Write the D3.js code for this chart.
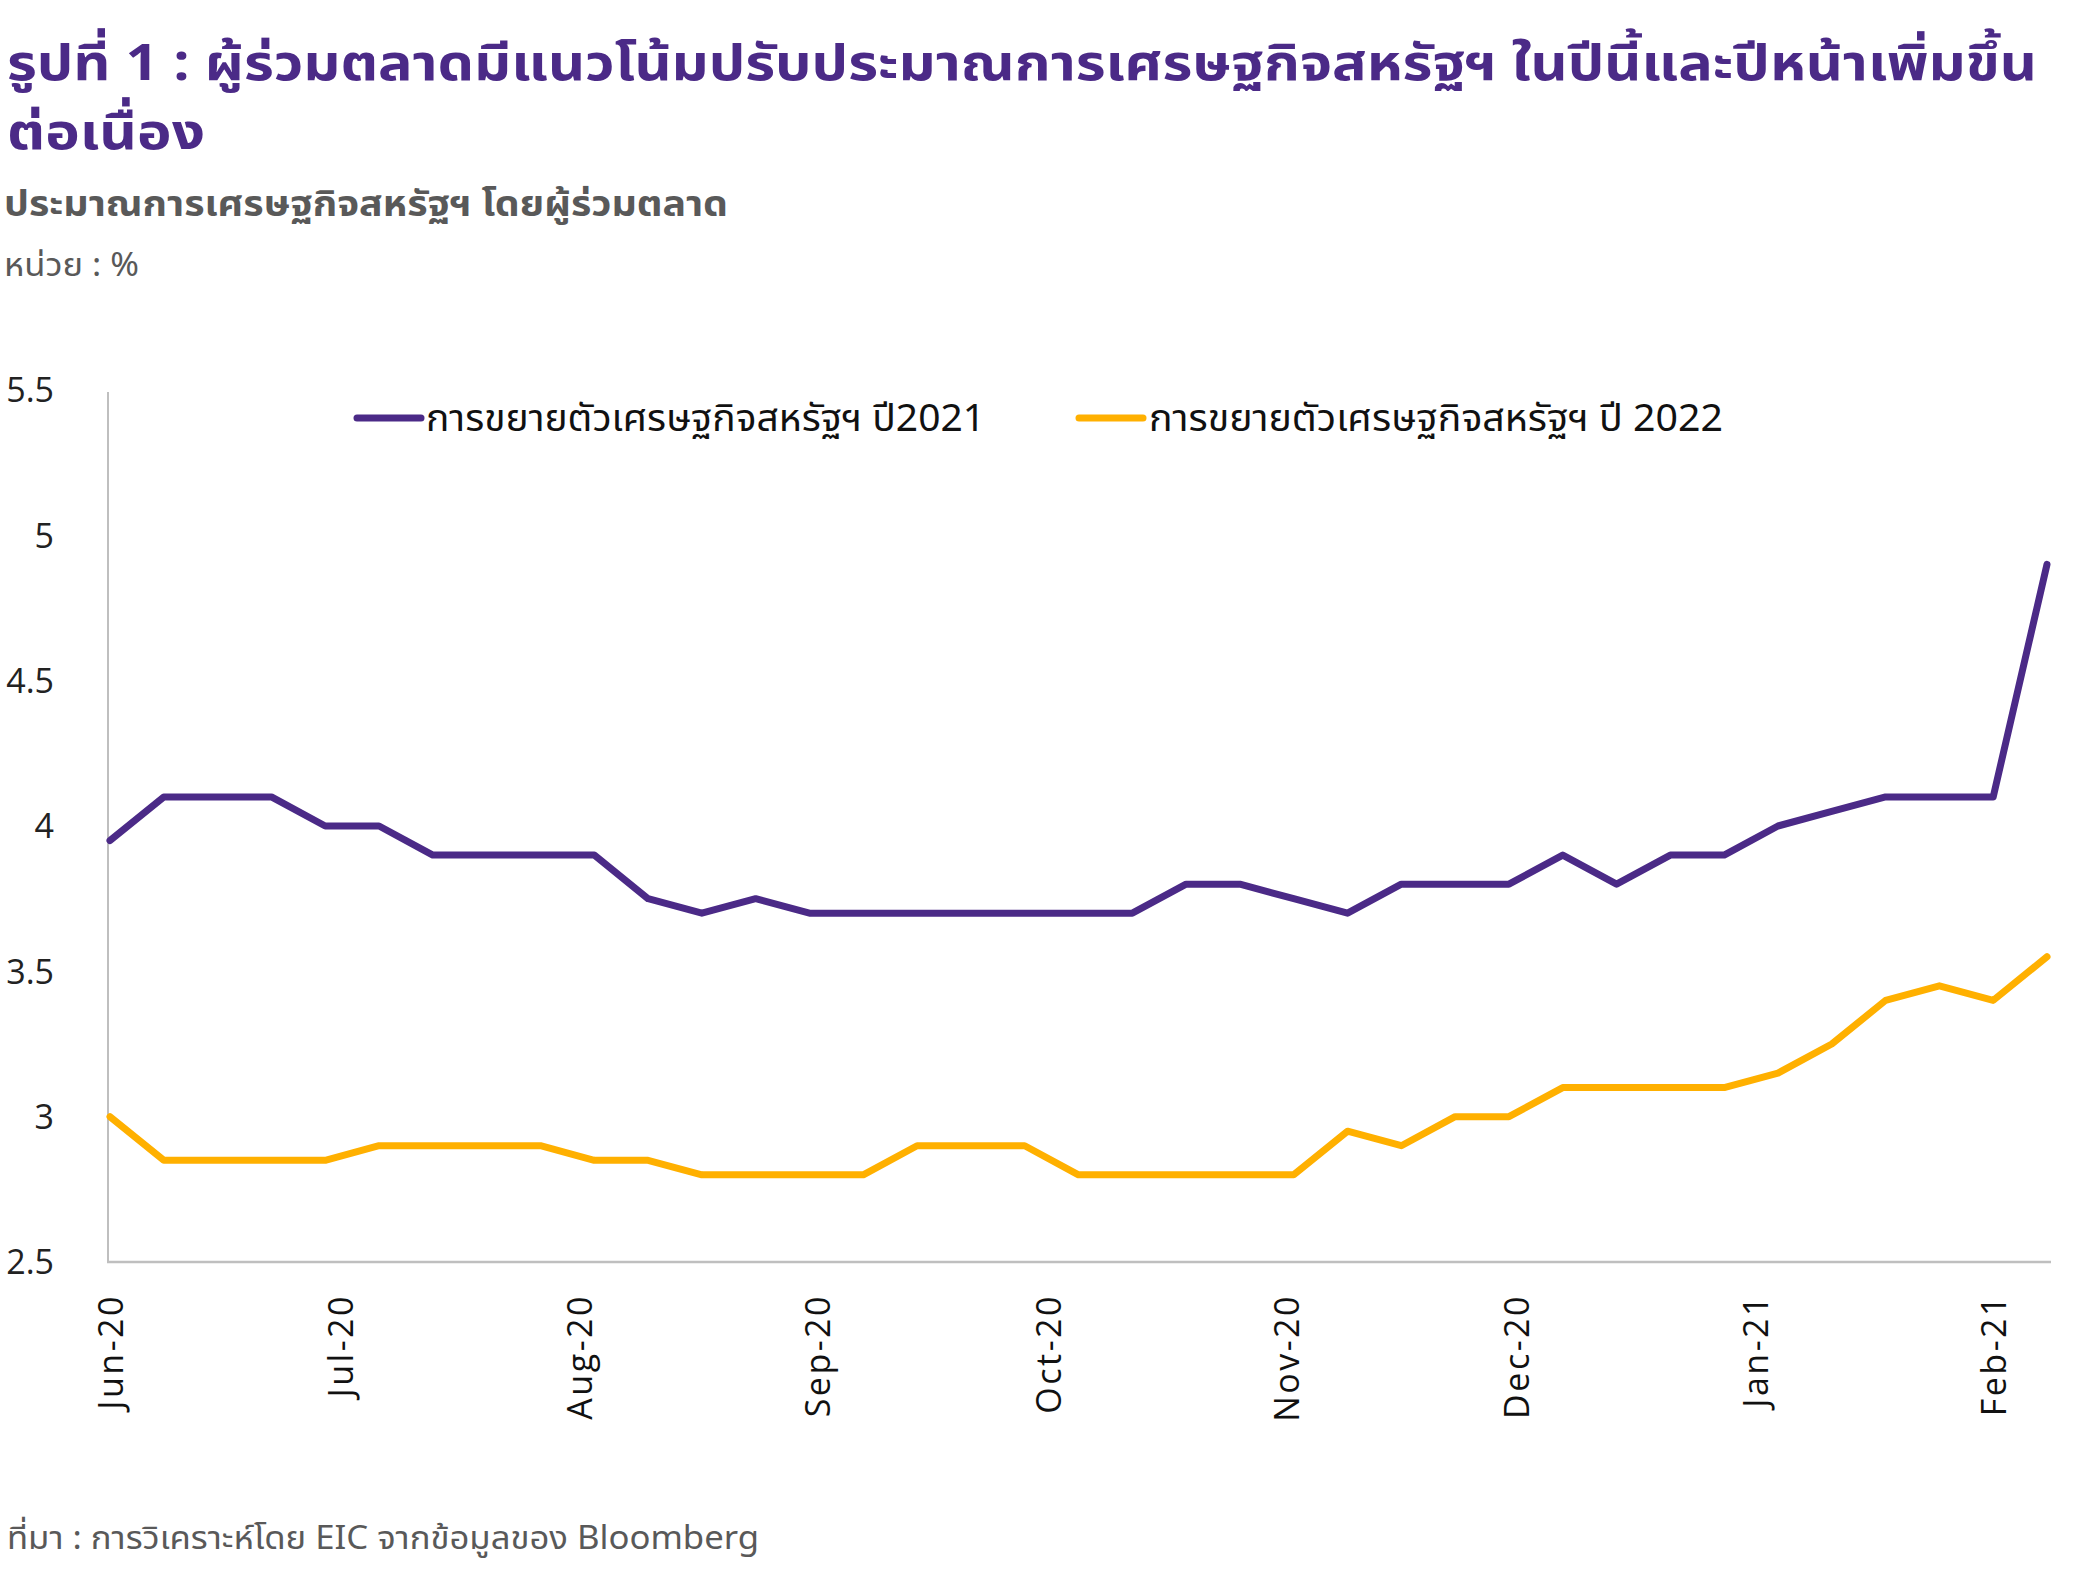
<!DOCTYPE html>
<html>
<head>
<meta charset="utf-8">
<script src="https://cdn.jsdelivr.net/npm/d3@7"></script>
<style>
  html, body { margin: 0; padding: 0; background: #fff; }
  svg { display: block; }
</style>
</head>
<body>
<svg id="chart" width="2088" height="1573"></svg>
<script>
// ---- data ----
const startDate = "2020-06-01";           // first weekly observation
const weeks = d3.range(37);               // 37 weekly observations
const series2021 = [3.95, 4.1, 4.1, 4.1, 4.0, 4.0, 3.9, 3.9, 3.9, 3.9, 3.75, 3.7, 3.75, 3.7, 3.7, 3.7, 3.7, 3.7, 3.7, 3.7, 3.8, 3.8, 3.75, 3.7, 3.8, 3.8, 3.8, 3.9, 3.8, 3.9, 3.9, 4.0, 4.05, 4.1, 4.1, 4.1, 4.9];
const series2022 = [3.0, 2.85, 2.85, 2.85, 2.85, 2.9, 2.9, 2.9, 2.9, 2.85, 2.85, 2.8, 2.8, 2.8, 2.8, 2.9, 2.9, 2.9, 2.8, 2.8, 2.8, 2.8, 2.8, 2.95, 2.9, 3.0, 3.0, 3.1, 3.1, 3.1, 3.1, 3.15, 3.25, 3.4, 3.45, 3.4, 3.55];
const yTicks = [2.5, 3, 3.5, 4, 4.5, 5, 5.5];
const xTickDates = ["2020-06-01","2020-07-01","2020-08-01","2020-09-01","2020-10-01","2020-11-01","2020-12-01","2021-01-01","2021-02-01"];
const seriesNames = ["การขยายตัวเศรษฐกิจสหรัฐฯ ปี2021", "การขยายตัวเศรษฐกิจสหรัฐฯ ปี 2022"];
const titleLines = ["รูปที่ 1 : ผู้ร่วมตลาดมีแนวโน้มปรับประมาณการเศรษฐกิจสหรัฐฯ ในปีนี้และปีหน้าเพิ่มขึ้น", "ต่อเนื่อง"];
const subtitle = "ประมาณการเศรษฐกิจสหรัฐฯ โดยผู้ร่วมตลาด";
const unitLabel = "หน่วย : %";
const sourceLabel = "ที่มา : การวิเคราะห์โดย EIC จากข้อมูลของ Bloomberg";

// ---- setup ----
const svg = d3.select("#chart");
const parse = d3.utcParse("%Y-%m-%d");
const t0 = parse(startDate);
const dates = weeks.map(i => d3.utcDay.offset(t0, i * 7));
const colors = ["#4B2A87", "#FFB000"];
const thaiFont = "'Noto Sans Thai', 'Noto Sans Thai UI', Loma, Garuda, Tahoma, 'Noto Sans', sans-serif";
const thaiCond = "'Noto Sans Thai', 'Noto Sans Thai UI', Loma, Garuda, 'Noto Sans', sans-serif";

const x = d3.scaleUtc().domain([dates[0], dates[dates.length - 1]]).range([110, 2047]);
const y = d3.scaleLinear().domain([2.5, 5.5]).range([1262, 390]);

// ---- title / subtitle ----
function fitText(sel, width) {
  sel.attr("textLength", width).attr("lengthAdjust", "spacingAndGlyphs");
}
svg.append("text").attr("x", 7).attr("y", 80)
  .attr("font-family", thaiCond).attr("font-weight", 700).attr("font-size", 50)
  .attr("fill", "#4B2A87").text(titleLines[0]).call(fitText, 2030);
svg.append("text").attr("x", 7).attr("y", 149)
  .attr("font-family", thaiCond).attr("font-weight", 700).attr("font-size", 50)
  .attr("fill", "#4B2A87").text(titleLines[1]).call(fitText, 198);
svg.append("text").attr("x", 4).attr("y", 216)
  .attr("font-family", thaiCond).attr("font-weight", 700).attr("font-size", 36)
  .attr("fill", "#595959").text(subtitle).call(fitText, 724);
svg.append("text").attr("x", 4).attr("y", 276)
  .attr("font-family", thaiCond).attr("font-size", 32)
  .attr("fill", "#595959").text(unitLabel).call(fitText, 135);

// ---- axes ----
const yAxis = d3.axisLeft(y).tickValues(yTicks).tickSize(0).tickPadding(0)
  .tickFormat(d => d3.format("")(d));
const gy = svg.append("g").attr("transform", "translate(54,0)").call(yAxis);
gy.select(".domain").remove();
gy.selectAll("text").attr("font-family", "'Open Sans', 'DejaVu Sans', sans-serif")
  .attr("font-size", 34).attr("fill", "#222").attr("dy", "0.35em");

svg.append("line").attr("x1", 108).attr("x2", 108).attr("y1", 392).attr("y2", y(2.5))
  .attr("stroke", "#BFBFBF").attr("stroke-width", 2);

const xAxis = d3.axisBottom(x).tickValues(xTickDates.map(parse)).tickSize(0).tickPadding(0)
  .tickFormat(d3.utcFormat("%b-%y"));
const gx = svg.append("g").attr("transform", `translate(0,${y(2.5)})`).call(xAxis);
gx.select(".domain").remove();
gx.selectAll("text")
  .attr("font-family", "'Open Sans', 'DejaVu Sans', sans-serif")
  .attr("font-size", 34).attr("fill", "#111")
  .attr("letter-spacing", 2.5)
  .attr("text-anchor", "end")
  .attr("transform", "rotate(-90)")
  .attr("x", -32).attr("y", 0).attr("dy", "0.36em");
svg.append("line").attr("x1", 107).attr("x2", 2051).attr("y1", y(2.5)).attr("y2", y(2.5))
  .attr("stroke", "#BFBFBF").attr("stroke-width", 2.5);

// ---- lines ----
const line = d3.line().x((d, i) => x(dates[i])).y(d => y(d));
[series2021, series2022].forEach((s, k) => {
  svg.append("path").datum(s).attr("d", line)
    .attr("fill", "none").attr("stroke", colors[k]).attr("stroke-width", 7)
    .attr("stroke-linejoin", "round").attr("stroke-linecap", "round");
});

// ---- legend ----
const legendPos = [{lx: 357, tx: 426, tw: 559}, {lx: 1079, tx: 1149, tw: 574}];
legendPos.forEach((p, k) => {
  svg.append("line").attr("x1", p.lx).attr("x2", p.lx + 64).attr("y1", 418).attr("y2", 418)
    .attr("stroke", colors[k]).attr("stroke-width", 7).attr("stroke-linecap", "round");
  svg.append("text").attr("x", p.tx).attr("y", 431)
    .attr("font-family", thaiFont).attr("font-size", 38).attr("fill", "#111")
    .text(seriesNames[k]).call(fitText, p.tw);
});

// ---- source ----
svg.append("text").attr("x", 7).attr("y", 1549)
  .attr("font-family", thaiCond).attr("font-size", 32)
  .attr("fill", "#595959").text(sourceLabel).call(fitText, 752);
</script>
</body>
</html>
